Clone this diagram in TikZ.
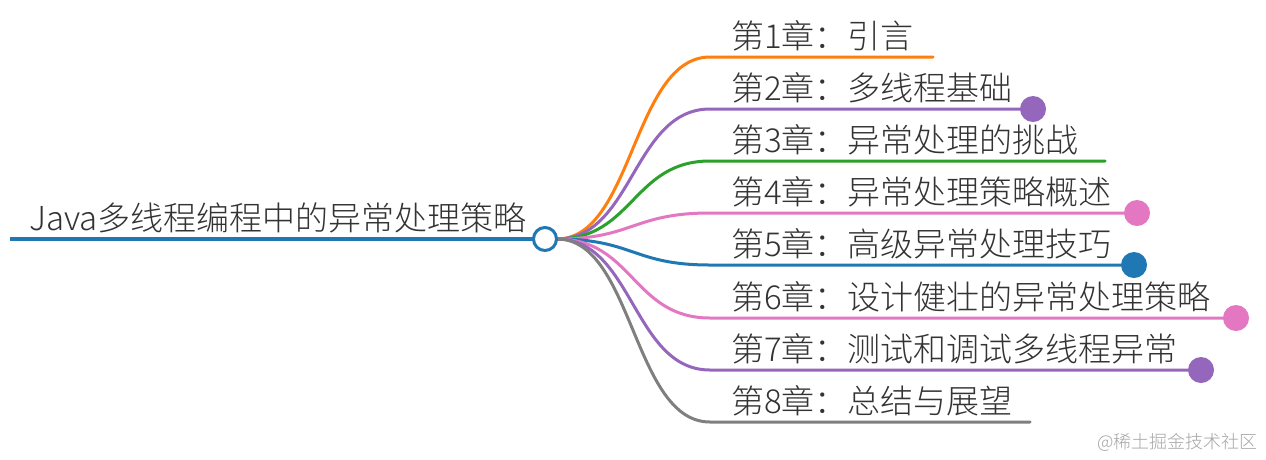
\documentclass[tikz,border=0pt]{standalone}
\usepackage{fontspec}
\setmainfont{Noto Sans CJK SC Light}
\definecolor{cBlue}{HTML}{1F77B4}
\definecolor{cOrange}{HTML}{FF7F0E}
\definecolor{cGreen}{HTML}{2CA02C}
\definecolor{cPurple}{HTML}{9467BD}
\definecolor{cPink}{HTML}{E377C2}
\definecolor{cGray}{HTML}{7F7F7F}
\definecolor{txt}{HTML}{333333}
\tikzset{
  lbl/.style={anchor=base west, inner sep=0pt, text=txt, font=\fontsize{33}{38}\selectfont},
  branch/.style={line width=3pt, line cap=round},
  dotend/.style={circle, inner sep=0pt, minimum size=26pt},
  hubstyle/.style={circle, draw=cBlue, line width=3pt, fill=white, minimum size=23pt, inner sep=0pt},
}
\begin{document}
\begin{tikzpicture}[x=1pt,y=-1pt]
\useasboundingbox (0,0) rectangle (1266,459);
\fill[white] (0,0) rectangle (1266,459);
% root
\coordinate (rootL) at (10,239);
\coordinate (hubc) at (545,239);
\node[lbl] (root) at (29,230) {Java多线程编程中的异常处理策略};
\draw[cBlue, line width=4pt] (rootL) -- (hubc);
% branches
\foreach \i/\y/\xe/\col/\txt in {
  1/57/933/cOrange/{第1章：引言},
  2/109/1033/cPurple/{第2章：多线程基础},
  3/161/1105/cGreen/{第3章：异常处理的挑战},
  4/213/1137/cPink/{第4章：异常处理策略概述},
  5/265/1134/cBlue/{第5章：高级异常处理技巧},
  6/318/1236/cPink/{第6章：设计健壮的异常处理策略},
  7/370/1201/cPurple/{第7章：测试和调试多线程异常},
  8/422/1030/cGray/{第8章：总结与展望}} {
  \coordinate (s\i) at (557,239);
  \coordinate (k\i) at (710,\y);
  \coordinate (e\i) at (\xe,\y);
  \draw[branch, \col] (s\i) .. controls (633,239) and (633,\y) .. (k\i) -- (e\i);
  \node[lbl] (t\i) at (731,\y-9) {\txt};
}
\foreach \i/\col in {2/cPurple,4/cPink,5/cBlue,6/cPink,7/cPurple}
  \node[dotend, fill=\col] (d\i) at (e\i) {};
\node[hubstyle] (hub) at (hubc) {};
\node[anchor=base east, inner sep=0pt, text=black!35, font=\fontsize{18}{20}\selectfont] (wm) at (1258,448) {@稀土掘金技术社区};
\end{tikzpicture}
\end{document}
